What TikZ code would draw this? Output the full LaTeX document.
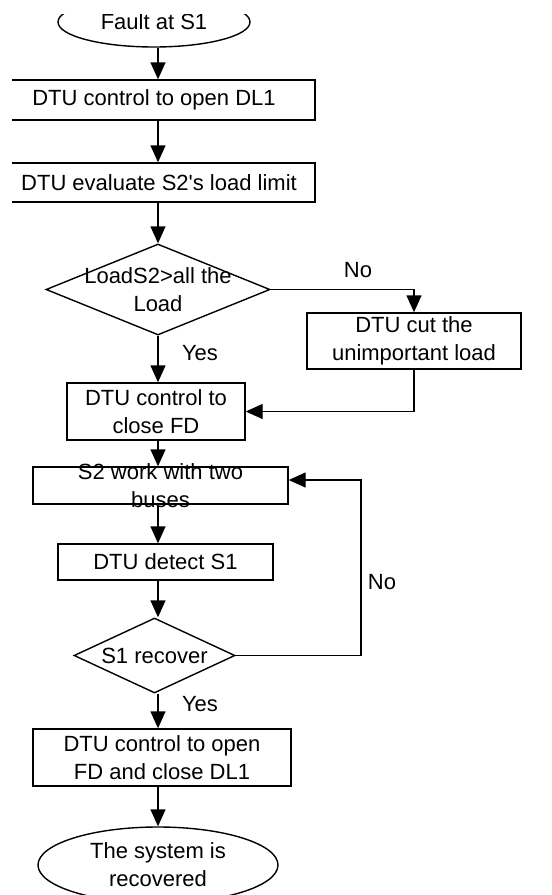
\documentclass[tikz,border=0pt]{standalone}
\usepackage{fontspec}
\setmainfont{Liberation Sans}
\usetikzlibrary{shapes,arrows.meta}
\tikzstyle{block} = [draw, rectangle, inner sep=0pt]
\tikzstyle{decision} = [draw, diamond, inner sep=0pt]
\tikzstyle{term} = [draw, ellipse, inner sep=0pt]
\tikzstyle{arr} = [-{Triangle[length=8.5pt,width=7.5pt]}]

\begin{document}
\begin{tikzpicture}[x=0.5pt,y=-0.5pt,line width=0.7pt,font=\fontsize{11}{14}\selectfont]
\useasboundingbox (0,0) rectangle (552,895);
\clip (12,14) rectangle (552,895);
\coordinate (sp) at (158,0);

	\node[term, minimum width=96pt, minimum height=25pt] (start) at (154,22) {Fault at S1};
	\node[block, minimum width=161pt, minimum height=20pt] (open) at (154,100) {DTU control to open DL1};
	\node[block, minimum width=156pt, minimum height=19.5pt] (eval) at (159,182.5) {DTU evaluate S2\textquotesingle s load limit};

	\node[decision, minimum width=112pt, minimum height=45.5pt] (check) at (158,289.5) {};
	\node[align=center] (checktxt) at (check) {LoadS2>all the\\Load};
	\node[block, minimum width=107pt, minimum height=28pt, align=center] (cut) at (414,341) {DTU cut the\\unimportant load};
	\node[block, minimum width=89pt, minimum height=28.5pt, align=center] (close) at (156,411.5) {DTU control to\\close FD};

	\node[block, minimum width=127.5pt, minimum height=18.5pt] (work) at (160.5,485.5) {};
	\node[align=center] (worktxt) at (work) {S2 work with two\\buses};
	\node[block, minimum width=107.5pt, minimum height=18pt] (detect) at (165.5,562) {DTU detect S1};
	\node[decision, minimum width=80.5pt, minimum height=37.5pt] (rec) at (154.5,655.5) {};
	\node (rectxt) at (rec) {S1 recover};

	\node[block, minimum width=129pt, minimum height=28.5pt, align=center] (restore) at (162,757.5) {DTU control to open\\FD and close DL1};
	\node[term, minimum width=120pt, minimum height=38pt, align=center] (done) at (158,865) {The system is\\recovered};

	\node (no1) at (358,270) {No};
	\node (yes1) at (200,353) {Yes};
	\node (no2) at (382,582) {No};
	\node (yes2) at (200,704) {Yes};

    \draw[arr] (start.south -| sp) -- (open.north -| sp);
    \draw[arr] (open.south -| sp) -- (eval.north -| sp);
    \draw[arr] (eval.south -| sp) -- (check.north);
    \draw[arr] (check.south) -- (close.north -| sp);
    \draw[arr] (check.east) -| (cut.north);
    \draw[arr] (cut.south) |- (close.east);
    \draw[arr] (close.south -| sp) -- (work.north -| sp);
    \draw[arr] (work.south -| sp) -- (detect.north -| sp);
    \draw[arr] (detect.south -| sp) -- (rec.north -| sp);
    \coordinate (loop) at (361,480);
    \draw[arr] (rec.east) -| (loop) -- (loop -| work.east);
    \draw[arr] (rec.south -| sp) -- (restore.north -| sp);
    \draw[arr] (done.north |- restore.south) -- (done.north);
\end{tikzpicture}
\end{document}
